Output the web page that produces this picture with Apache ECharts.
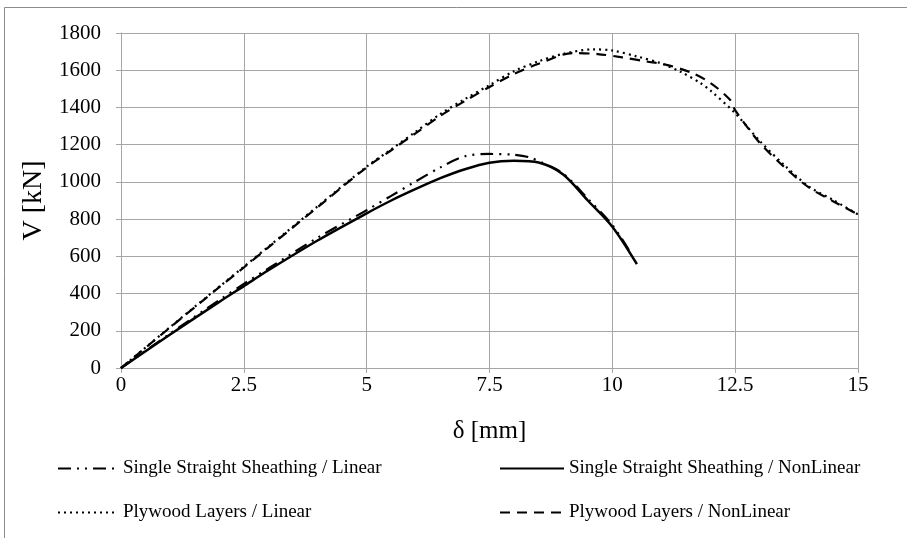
<!DOCTYPE html>
<html>
<head>
<meta charset="utf-8">
<script src="https://cdn.jsdelivr.net/npm/echarts@6/dist/echarts.min.js"></script>
<style>
  html, body { margin: 0; padding: 0; background: #fff; }
  #chart { width: 907px; height: 538px; }
</style>
</head>
<body>
<div id="chart"></div>
<script>
// Load–displacement curves: shear force V [kN] against displacement δ [mm]
const xTicks = [0, 2.5, 5, 7.5, 10, 12.5, 15];
const yTicks = [0, 200, 400, 600, 800, 1000, 1200, 1400, 1600, 1800];

const singleLinearX = [0, 1, 2, 2.5, 3, 4, 5, 5.5, 6, 6.5, 7, 7.5, 8, 8.3, 8.6, 9, 9.5, 10, 10.36];
const singleLinearV = [0, 185, 365, 452, 535, 700, 848, 925, 1003, 1078, 1138, 1150, 1146, 1133, 1100, 1045, 910, 768, 624];

const singleNonLinearX = [0, 1, 2, 2.5, 3, 4, 5, 5.5, 6, 6.5, 7, 7.5, 8, 8.5, 9, 9.5, 10, 10.5];
const singleNonLinearV = [0, 180, 355, 440, 525, 685, 831, 900, 962, 1020, 1068, 1103, 1113, 1104, 1040, 900, 759, 558];

const plywoodLinearX = [0, 1, 2, 2.5, 3, 4, 5, 5.5, 6, 6.5, 7, 7.5, 8, 8.5, 9, 9.6, 10, 10.5, 11, 11.4, 11.8, 12, 12.5, 13, 13.5, 14, 14.5, 15];
const plywoodLinearV = [0, 220, 437, 544, 652, 868, 1082, 1175, 1270, 1365, 1445, 1520, 1595, 1648, 1688, 1712, 1706, 1674, 1636, 1590, 1530, 1490, 1369, 1220, 1090, 975, 902, 825];

const plywoodNonLinearX = [0, 1, 2, 2.5, 3, 4, 5, 5.5, 6, 6.5, 7, 7.5, 8, 8.5, 9.2, 9.7, 10.2, 10.7, 11.1, 11.6, 12, 12.4, 12.5, 13, 13.5, 14, 14.5, 15];
const plywoodNonLinearV = [0, 218, 434, 540, 648, 864, 1078, 1170, 1262, 1355, 1435, 1510, 1580, 1635, 1692, 1687, 1669, 1647, 1629, 1588, 1531, 1440, 1385, 1210, 1080, 970, 895, 825];

const seriesNames = [
  'Single Straight Sheathing / Linear',
  'Single Straight Sheathing / NonLinear',
  'Plywood Layers / Linear',
  'Plywood Layers / NonLinear'
];

function pairs(xs, ys) {
  return xs.map((x, i) => [x, ys[i]]);
}

const serif = '"Liberation Serif", "Times New Roman", serif';
const gridGray = '#a6a6a6';

const chart = echarts.init(document.getElementById('chart'), null, { renderer: 'canvas' });

function lineSeries(name, data, type, width) {
  return {
    name: name,
    type: 'line',
    data: data,
    showSymbol: false,
    symbol: 'none',
    smooth: 0.3,
    lineStyle: { color: '#000', width: width, type: type },
    itemStyle: { color: '#000' },
    emphasis: { disabled: true }
  };
}

const legendText = { fontFamily: serif, fontSize: 19, color: '#000' };

chart.setOption({
  animation: false,
  backgroundColor: '#fff',
  graphic: [{
    type: 'rect',
    shape: { x: 4.5, y: 7.5, width: 1000, height: 600 },
    style: { fill: 'none', stroke: '#8c8c8c', lineWidth: 1 },
    silent: true
  }],
  grid: { left: 121, right: 49, top: 33, bottom: 170, containLabel: false },
  legend: [{
    data: [seriesNames[0], seriesNames[2]],
    orient: 'vertical',
    left: 52,
    top: 454,
    itemWidth: 60,
    itemHeight: 14,
    itemGap: 25,
    itemStyle: { opacity: 0 },
    textStyle: legendText
  }, {
    data: [seriesNames[1], seriesNames[3]],
    orient: 'vertical',
    left: 494,
    top: 454,
    itemWidth: 64,
    itemHeight: 14,
    itemGap: 25,
    itemStyle: { opacity: 0 },
    textStyle: legendText
  }],
  xAxis: {
    type: 'value',
    min: 0,
    max: 15,
    interval: 2.5,
    name: 'δ [mm]',
    nameLocation: 'middle',
    nameGap: 51,
    nameTextStyle: { fontFamily: serif, fontSize: 25, color: '#000' },
    axisLine: { show: true, lineStyle: { color: gridGray, width: 1 } },
    axisTick: { show: true, length: 5, lineStyle: { color: gridGray } },
    axisLabel: {
      fontFamily: serif, fontSize: 21, color: '#000', margin: 7,
      formatter: v => xTicks.includes(v) ? String(v) : ''
    },
    splitLine: { show: true, lineStyle: { color: gridGray, width: 1 } }
  },
  yAxis: {
    type: 'value',
    min: 0,
    max: 1800,
    interval: 200,
    name: 'V [kN]',
    nameLocation: 'middle',
    nameGap: 69,
    nameRotate: 90,
    nameTextStyle: { fontFamily: serif, fontSize: 28, color: '#000' },
    axisLine: { show: true, lineStyle: { color: gridGray, width: 1 } },
    axisTick: { show: true, length: 5, lineStyle: { color: gridGray } },
    axisLabel: {
      fontFamily: serif, fontSize: 21, color: '#000', margin: 20,
      formatter: v => yTicks.includes(v) ? String(v) : ''
    },
    splitLine: { show: true, lineStyle: { color: gridGray, width: 1 } }
  },
  series: [
    lineSeries(seriesNames[0], pairs(singleLinearX, singleLinearV), [13, 6, 2, 6, 2, 6], 2.2),
    lineSeries(seriesNames[1], pairs(singleNonLinearX, singleNonLinearV), 'solid', 2.5),
    lineSeries(seriesNames[2], pairs(plywoodLinearX, plywoodLinearV), [2, 4], 2.2),
    lineSeries(seriesNames[3], pairs(plywoodNonLinearX, plywoodNonLinearV), [10, 7], 2.2)
  ]
});
</script>
</body>
</html>
